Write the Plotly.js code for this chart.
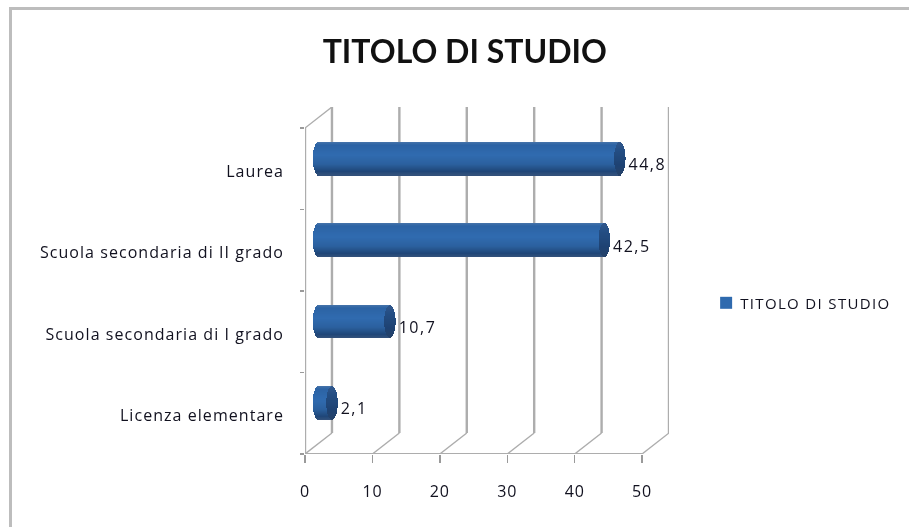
<!DOCTYPE html>
<html>
<head>
<meta charset="utf-8">
<script src="https://cdn.plot.ly/plotly-3.0.1.min.js"></script>
<style>
html,body{margin:0;padding:0;background:#fff;overflow:hidden}
#frame{position:absolute;left:9px;top:7px;width:900px;height:520px;border-left:3px solid #bdbdbd;border-top:3px solid #bdbdbd;filter:blur(.4px)}
#chart{position:absolute;left:0;top:0;width:909px;height:527px;filter:blur(.45px)}
#chart .ytick text{letter-spacing:1.05px !important}
#chart .xtick text{letter-spacing:.8px !important}
#chart .textpoint text{letter-spacing:1.5px !important}
#chart .legendtext{letter-spacing:1.35px !important;transform:translateX(-6px)}
#chart .legend .scrollbox{clip-path:none !important}
</style>
</head>
<body>
<div id="frame"></div>
<div id="chart"></div>
<script>
const categories = ["Licenza elementare", "Scuola secondaria di I grado", "Scuola secondaria di II grado", "Laurea"];
const values = [2.1, 10.7, 42.5, 44.8];
const valueLabels = ["2,1", "10,7", "42,5", "44,8"];
const xTicks = [0, 10, 20, 30, 40, 50];
const seriesName = "TITOLO DI STUDIO";

const depthX = 4, depthY = 0.258;          // perspective offset of the back wall, in axis units
const barStart = 2, barEndShift = 1.9;     // bar sits at mid depth
const barThickness = 0.41, capRadius = 0.85;
const centres = categories.map((c, i) => i + 0.5 + depthY / 2 - 0.005);
const labelFont = 'Open Sans, sans-serif';

const bodyStops = [[-1,[70,116,170]],[-0.82,[44,99,164]],[-0.2,[48,107,176]],[0.35,[43,96,158]],[0.78,[31,70,120]],[1,[52,82,124]]];
const capStops  = [[-1,[50,88,140]],[-0.5,[36,78,132]],[0.4,[30,66,114]],[1,[38,66,104]]];
function shade(stops, t){
  for(let i=1;i<stops.length;i++){
    if(t<=stops[i][0]){
      const a=stops[i-1],b=stops[i],f=(t-a[0])/(b[0]-a[0]);
      return 'rgb('+a[1].map((v,k)=>Math.round(v+(b[1][k]-v)*f)).join(',')+')';
    }
  }
  return 'rgb('+stops[stops.length-1][1].join(',')+')';
}

const traces = [];
const N = 33;
for(let s=0;s<N;s++){
  const t = -1 + (2*s+1)/N;
  const half = Math.sqrt(1-t*t)*capRadius;
  const ys = centres.map(c => c - t*barThickness/2);
  const w = barThickness/N*1.25;
  const isMid = s === 11;
  traces.push({
    type:'bar', orientation:'h', y:ys, width:ys.map(()=>w),
    base:values.map(()=>barStart-half),
    x:values.map(v=>v+barEndShift-barStart+half),
    marker:{color:shade(bodyStops,t), opacity:1, line:{width:0}},
    name:seriesName, showlegend:isMid, hoverinfo:'skip'
  });
  traces.push({
    type:'bar', orientation:'h', y:ys, width:ys.map(()=>w),
    base:values.map(v=>v+barEndShift-half),
    x:values.map(()=>2*half),
    marker:{color:shade(capStops,t), opacity:1, line:{width:0}},
    showlegend:false, hoverinfo:'skip'
  });
}
traces.push({
  type:'scatter', mode:'text', x:values.map(v=>v+barEndShift+1.3), y:centres.map(c=>c-0.09),
  text:valueLabels, textposition:'middle right',
  textfont:{family:labelFont, size:16, color:'#11111f'},
  showlegend:false, cliponaxis:false, hoverinfo:'skip'
});

const gridColor = '#adadad';
const shapes = [];
const line = (x0,y0,x1,y1,width,color) => shapes.push({type:'line',xref:'x',yref:'y',x0,y0,x1,y1,layer:'below',line:{color:color||gridColor,width}});
xTicks.forEach(v=>{
  line(v+depthX,depthY,v+depthX,4+depthY,2.4);
  line(v,0,v+depthX,depthY,1.4);
});
line(0,0,0,4,2.4);
line(0,0,50,0,1.8);
line(0,4,depthX,4+depthY,1.4);

const layout = {
  width:909, height:527, autosize:false,
  paper_bgcolor:'rgba(0,0,0,0)', plot_bgcolor:'rgba(0,0,0,0)',
  margin:{l:305,r:239.5,t:107,b:73,pad:0},
  barmode:'overlay', bargap:0,
  font:{family:labelFont, color:'#11111f'},
  title:{text:'<b>'+seriesName+'</b>', font:{family:'Lato, sans-serif', size:32, color:'#111'}, x:0.439, xref:'paper', xanchor:'center', y:0.902, yanchor:'middle'},
  xaxis:{range:[0,54], tickmode:'array', tickvals:xTicks, ticks:'outside', ticklen:8, tickwidth:1.4, tickcolor:'#9a9a9a',
         showgrid:false, zeroline:false, showline:false, ticklabelstandoff:15,
         tickfont:{family:labelFont, size:16, color:'#11111f'}, fixedrange:true},
  yaxis:{range:[0,4+depthY], tickmode:'array', tickvals:centres.map((c,i)=>i+0.47), ticktext:categories, ticks:'', showgrid:false,
         zeroline:false, showline:false, ticklabelstandoff:20,
         minor:{tickmode:'array', tickvals:[0,1,2,3,4], ticks:'outside', ticklen:4, tickwidth:1.4, tickcolor:'#9a9a9a', showgrid:false},
         tickfont:{family:labelFont, size:16, color:'#11111f'}, fixedrange:true},
  legend:{x:1.102, xanchor:'left', y:0.435, yanchor:'middle', bgcolor:'rgba(0,0,0,0)', borderwidth:0,
          itemwidth:30, font:{family:labelFont, size:15, color:'#11111f'}},
  shapes
};
Plotly.newPlot('chart', traces, layout, {displayModeBar:false, staticPlot:true});
</script>
</body>
</html>
